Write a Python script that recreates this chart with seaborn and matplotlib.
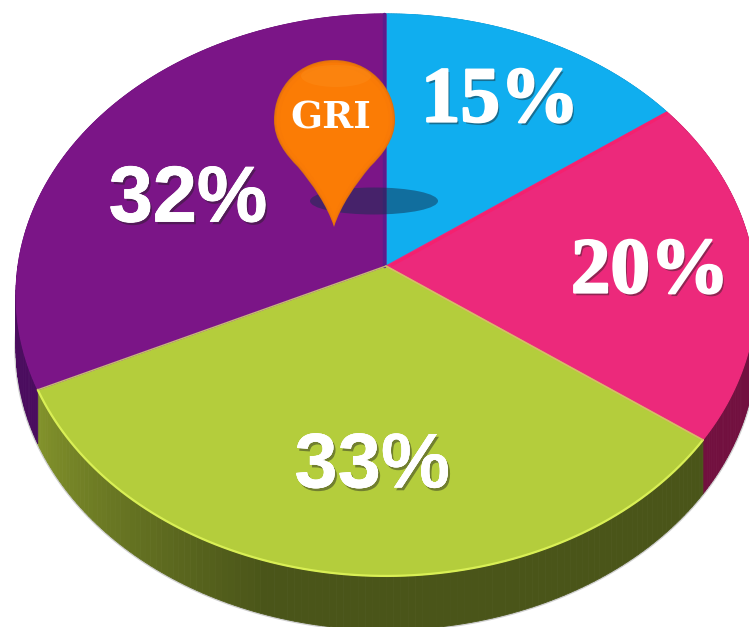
import numpy as np
import seaborn as sns
import matplotlib.pyplot as plt
import matplotlib.patheffects as pe
from matplotlib.path import Path
from matplotlib.patches import PathPatch, Ellipse, Polygon

# Share of each slice, clockwise from the top
labels = ["15%", "20%", "33%", "32%"]
values = [15, 20, 33, 32]
face_colors = ["#10aeef", "#ec297b", "#b4cd3c", "#7b1587"]
side_colors = ["#0a6d96", "#72103f", "#4a5519", "#4a0c5e"]

sns.set_theme(style="white")

# Perspective of the tilted disc, in image pixels
cx, cy = 386, 266
rx, ry = 368, 278
tilt = 0.103
depth = 54


def project(theta):
    u, v = np.sin(theta), np.cos(theta)
    w = 1 + tilt * v
    return cx + rx * u / w, cy - ry * v / w


fig = plt.figure(figsize=(7.49, 6.27), dpi=100)
ax = fig.add_axes([0, 0, 1, 1])
ax.set_xlim(0, 749)
ax.set_ylim(627, 0)
ax.axis("off")

palette = sns.color_palette(face_colors)
shares = np.cumsum([0] + values) / sum(values) * 2 * np.pi

# Soft halo round the lower outside edge
t = np.linspace(np.pi / 2, 3 * np.pi / 2, 300)
ox, oy = project(t)
ax.plot(ox, oy + depth, color="#777777", lw=2.5, alpha=0.35, zorder=1)

# Side wall, only the lower half of the rim shows
for i in range(4):
    start, end = shares[i], shares[i + 1]
    steps = np.linspace(start, end, 120)
    base = np.array(sns.color_palette([side_colors[i]])[0])
    for a, b in zip(steps[:-1], steps[1:]):
        xa, ya = project(np.array([a, b]))
        col = base
        if i == 2:
            # green wall is lit from the left
            f = np.clip((b - 3.45) / (4.27 - 3.45), 0, 1)
            col = base + f * np.array([0.22, 0.24, 0.07])
        ax.add_patch(Polygon([(xa[0], ya[0]), (xa[1], ya[1]), (xa[1], ya[1] + depth), (xa[0], ya[0] + depth)],
                             closed=True, fc=col, ec=col, lw=0.6, zorder=2))

# Top face slices
for i in range(4):
    tt = np.linspace(shares[i], shares[i + 1], 150)
    x, y = project(tt)
    ax.fill(np.r_[cx, x], np.r_[cy, y], color=palette[i], lw=0.8, zorder=3)

# Darker seam on the purple side of the top boundary
ax.plot([cx - 2, cx - 2], [14, cy], color="#5e1a8c", lw=2.5, zorder=4)

# Brighter pink seam under the blue slice
x, y = project(np.array([shares[1]]))
ax.plot([cx + 6, x[0]], [cy - 1, y[0] + 1.5], color="#f5206f", lw=2, zorder=4)

# Light seam and highlight along the green slice
x, y = project(np.linspace(shares[2], shares[3], 200))
ax.plot(x, y, color="#d9ef55", lw=1.6, zorder=4)
ax.plot([cx, x[0]], [cy, y[0]], color="#d9b86a", lw=1.2, zorder=4)
ax.plot([cx, x[-1]], [cy, y[-1]], color="#c8b878", lw=1.0, zorder=4)

# Percent labels with a small drop shadow
label_pos = [(500, 103), (650, 274), (372, 467), (188, 201)]
label_font = ["Liberation Serif", "Liberation Serif", "Liberation Sans", "Liberation Sans"]
label_size = [57, 57, 56, 57]
label_stroke = [1.6, 1.6, 0, 0.6]
for i, lab in enumerate(labels):
    effects = [pe.withSimplePatchShadow(offset=(1.5, -2), shadow_rgbFace="#202020", alpha=0.45),
               pe.withStroke(linewidth=label_stroke[i], foreground="white")]
    ax.text(label_pos[i][0], label_pos[i][1], lab, color="white", fontsize=label_size[i], fontweight="bold",
            family=label_font[i], ha="center", va="center", path_effects=effects, zorder=6)

# Shadow under the pin
ax.add_patch(Ellipse((374, 201), 128, 27, fc="#12304f", ec="none", alpha=0.5, zorder=5))

# Map pin, shaded with shrinking copies of the same outline
pin = [(334, 227), (327, 205), (312, 184), (298, 167), (286, 155), (274, 140), (274, 120),
       (274, 86), (300, 60), (334, 60), (368, 60), (395, 86), (395, 120),
       (395, 140), (382, 155), (370, 167), (356, 184), (341, 205), (334, 227)]
codes = [Path.MOVETO] + [Path.CURVE4] * 18
pin = np.array(pin, dtype=float)
pin_colors = ["#d96f12", "#ef7508", "#f97a06", "#fb7c05"]
pin_scale = [1.0, 0.985, 0.96, 0.9]
for col, s in zip(pin_colors, pin_scale):
    shrunk = (pin - [334, 125]) * s + [334, 125]
    ax.add_patch(PathPatch(Path(shrunk, codes), fc=col, ec="none", zorder=7))
ax.add_patch(Ellipse((336, 76), 70, 22, fc="#fb9a2a", ec="none", alpha=0.25, zorder=7))
ax.text(331, 118, "GRI", color="white", fontsize=27, fontweight="bold", family="DejaVu Serif",
        ha="center", va="center", zorder=8)

fig.savefig("out.png", dpi=100)
